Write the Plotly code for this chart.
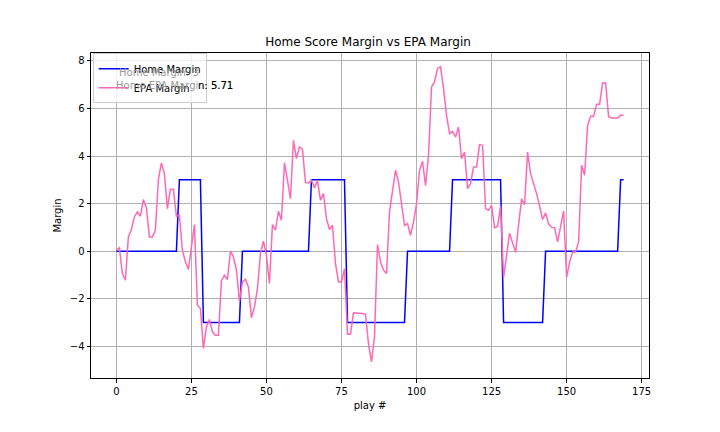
import plotly.graph_objects as go

# play numbers 0..169
plays = list(range(170))

# home score margin (step-like)
home_margin = ([0] * 21 + [3] * 8 + [-3] * 13 + [0] * 23 + [3] * 12 + [-3] * 20
               + [0] * 15 + [3] * 17 + [-3] * 14 + [0] * 25 + [3] * 2)

# EPA margin
epa_margin = [
    0.05, 0.14, -0.94, -1.22, 0.6, 0.91, 1.44, 1.65, 1.47, 2.17,
    1.83, 0.6, 0.6, 0.88, 3.01, 3.71, 3.26, 1.79, 2.6, 2.6,
    1.47, 1.51, 0.04, -0.45, -0.77, 0.18, 1.12, -2.27, -2.41, -4.09,
    -3.18, -2.87, -3.39, -3.53, -3.53, -1.25, -1.01, -1.19, 0.0, -0.24,
    -0.8, -2.1, -1.29, -1.18, -1.5, -2.8, -2.34, -1.57, -0.1, 0.42,
    -0.17, -1.36, 1.12, 0.88, 1.68, 1.3, 3.72, 2.98, 2.21, 4.66,
    3.89, 4.38, 4.29, 2.88, 2.87, 2.98, 2.67, 2.98, 2.14, 2.42,
    1.37, 0.91, 1.09, -0.52, -1.29, -1.29, -0.73, -3.49, -3.49, -2.59,
    -2.59, -2.59, -2.62, -2.65, -3.9, -4.65, -3.6, 0.28, -0.45, -0.8,
    -0.94, 1.65, 2.63, 3.4, 2.91, 2.07, 1.09, 1.16, 0.67, 1.23,
    2.0, 3.4, 3.78, 2.75, 4.03, 6.9, 7.12, 7.68, 7.75, 6.83,
    5.71, 4.94, 5.04, 4.8, 5.22, 3.89, 4.17, 2.63, 2.84, 3.54,
    3.54, 4.48, 4.45, 1.79, 1.72, 1.93, 0.98, 1.05, 1.9, -1.1,
    -0.2, 0.75, 0.35, -0.05, 1.1, 2.2, 1.95, 4.17, 3.26, 2.85,
    2.42, 1.9, 1.33, 1.61, 1.15, 1.0, 0.99, 0.39, 1.05, 1.69,
    -1.1, -0.45, -0.03, -0.03, 0.39, 3.61, 3.19, 5.29, 5.67, 5.67,
    6.18, 6.18, 7.07, 7.07, 5.65, 5.6, 5.6, 5.6, 5.71, 5.71,
]

x_ticks = [0, 25, 50, 75, 100, 125, 150, 175]
y_ticks = [-4, -2, 0, 2, 4, 6, 8]

fig = go.Figure()

fig.add_trace(go.Scatter(x=plays, y=home_margin, name='Home Margin', mode='lines',
                         line=dict(color='#0000ff', width=1.5)))
fig.add_trace(go.Scatter(x=plays, y=epa_margin, name='EPA Margin', mode='lines',
                         line=dict(color='#ff69b4', width=1.5)))

# text boxes that sit partly behind the legend (faded there, black outside it)
fig.add_annotation(x=0.047, y=0.94, xref='paper', yref='paper', xanchor='left', yanchor='middle',
                   text='Home Margin: 3', showarrow=False, font=dict(size=10, color='#9a9a9a'))
fig.add_annotation(x=0.258, y=0.90, xref='paper', yref='paper', xanchor='right', yanchor='middle',
                   text='Home EPA Margin: 5.71', showarrow=False, font=dict(size=10, color='#9a9a9a'))
fig.add_annotation(x=0.258, y=0.90, xref='paper', yref='paper', xanchor='right', yanchor='middle',
                   text='n: 5.71', showarrow=False, font=dict(size=10, color='black'))

axis_style = dict(showgrid=True, gridcolor='#b0b0b0', gridwidth=0.8, zeroline=False,
                  showline=True, linecolor='black', linewidth=1, mirror=True,
                  ticks='outside', ticklen=3.5, tickcolor='black',
                  tickfont=dict(size=10, color='black'))

fig.update_xaxes(range=[-8.45, 177.45], tickvals=x_ticks,
                 title=dict(text='play #', font=dict(size=10, color='black'), standoff=6),
                 **axis_style)
fig.update_yaxes(range=[-5.33, 8.33], tickvals=y_ticks,
                 title=dict(text='Margin', font=dict(size=10, color='black'), standoff=6),
                 **axis_style)

# page body adds an 8px offset, margins are set to compensate
fig.update_layout(
    width=720, height=432,
    margin=dict(l=83, r=79, t=45, b=62),
    paper_bgcolor='white', plot_bgcolor='white',
    font=dict(family='DejaVu Sans', size=10, color='black'),
    title=dict(text='Home Score Margin vs EPA Margin', x=0.5, xanchor='center',
               y=0.912, yanchor='bottom', font=dict(size=12, color='black')),
    legend=dict(x=0.003, y=0.999, xanchor='left', yanchor='top',
                bgcolor='rgba(255,255,255,0.8)', bordercolor='#cccccc', borderwidth=1,
                font=dict(size=10, color='black'), itemwidth=30,
                tracegroupgap=0),
    showlegend=True,
)

fig.write_html("out.html")
